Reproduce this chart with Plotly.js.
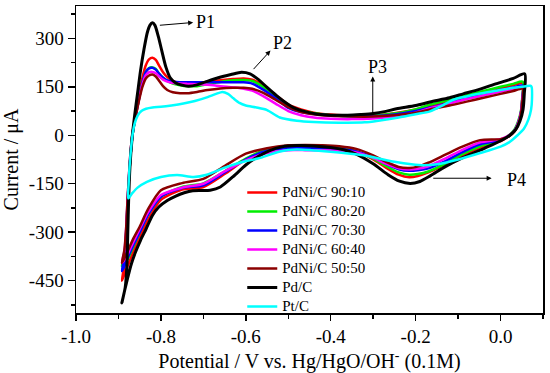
<!DOCTYPE html>
<html>
<head>
<meta charset="utf-8">
<script src="https://cdn.plot.ly/plotly-3.0.1.min.js"></script>
<style>html,body{margin:0;padding:0;background:#fff;}#chart{width:550px;height:373px;}</style>
</head>
<body>
<div id="chart"></div>
<script>
// ---- Data (potential in V, current in µA) ----
const seriesNames = ["PdNi/C 90:10", "PdNi/C 80:20", "PdNi/C 70:30", "PdNi/C 60:40", "PdNi/C 50:50", "Pd/C", "Pt/C"];
const seriesColors = ["#ff0000", "#00ee00", "#0000ff", "#ff00ff", "#8b0000", "#000000", "#00ffff"];

// shared potential grid for PdNi curves (forward then reverse)
const pdniFwdV = [-0.892,-0.886,-0.882,-0.879,-0.876,-0.872,-0.867,-0.860,-0.852,-0.844,-0.836,-0.828,-0.820,-0.812,-0.804,-0.795,-0.785,-0.772,-0.755,-0.738,-0.715,-0.690,-0.660,-0.630,-0.605,-0.585,-0.560,-0.530,-0.500,-0.470,-0.440,-0.400,-0.350,-0.300,-0.250,-0.200,-0.166,-0.120,-0.080,-0.040,0.000,0.030,0.052];
const pdniRevV = [0.051,0.048,0.042,0.033,0.020,0.000,-0.048,-0.090,-0.130,-0.170,-0.195,-0.215,-0.240,-0.270,-0.300,-0.340,-0.380,-0.420,-0.460,-0.500,-0.550,-0.600,-0.650,-0.700,-0.750,-0.800,-0.830,-0.850,-0.865,-0.877,-0.886,-0.892];

const pdni9010Fwd = [-450,-400,-320,-230,-150,-70,0,60,120,175,215,235,240,233,215,195,180,168,160,157,160,165,170,174,176,172,155,125,95,80,70,64,60,61,68,80,92,106,120,133,146,155,161];
const pdni9010Rev = [110,70,40,15,-2,-18,-38,-63,-90,-115,-126,-130,-122,-100,-75,-50,-38,-33,-31,-33,-45,-75,-120,-160,-168,-200,-260,-315,-360,-400,-430,-450];

const pdni8020Fwd = [-405,-370,-300,-220,-150,-70,0,55,110,160,195,208,210,205,190,178,168,160,155,152,152,158,165,170,171,168,150,120,90,76,68,62,59,60,67,80,95,110,124,137,150,159,166];
const pdni8020Rev = [115,75,45,18,0,-15,-34,-58,-88,-112,-120,-122,-115,-95,-72,-50,-38,-33,-32,-33,-43,-72,-112,-149,-160,-190,-245,-300,-345,-380,-398,-405];

const pdni7030Fwd = [-420,-380,-310,-225,-150,-70,0,55,110,160,195,207,209,203,190,178,170,166,164,164,164,164,164,164,164,160,142,115,85,72,66,62,59,59,64,75,86,100,114,127,140,148,154];
const pdni7030Rev = [110,70,40,15,-2,-15,-28,-52,-80,-102,-108,-110,-105,-88,-68,-50,-42,-40,-39,-40,-48,-75,-115,-155,-163,-190,-245,-300,-340,-375,-405,-420];

const pdni6040Fwd = [-395,-360,-290,-210,-140,-60,5,60,110,155,185,195,196,192,182,172,166,162,160,159,158,156,152,148,144,138,122,98,75,62,55,51,50,52,58,70,84,98,112,124,135,143,149];
const pdni6040Rev = [105,70,40,15,0,-12,-22,-45,-72,-96,-104,-106,-102,-88,-70,-53,-48,-47,-46,-46,-55,-78,-112,-150,-162,-185,-238,-290,-330,-365,-385,-395];

const pdni5050Fwd = [-395,-355,-290,-210,-140,-60,5,55,105,148,175,185,188,182,168,152,140,133,130,130,134,140,145,147,147,144,132,110,87,72,65,60,58,58,62,70,80,92,104,116,128,137,144];
const pdni5050Rev = [100,65,35,12,-3,-12,-15,-35,-60,-85,-97,-101,-98,-82,-62,-42,-34,-31,-30,-31,-40,-57,-95,-135,-148,-170,-228,-283,-320,-355,-380,-395];

// Pd/C
const pdcV = [-0.892,-0.884,-0.880,-0.878,-0.876,-0.873,-0.868,-0.862,-0.855,-0.848,-0.840,-0.832,-0.826,-0.820,-0.814,-0.806,-0.798,-0.788,-0.778,-0.765,-0.750,-0.735,-0.715,-0.695,-0.665,-0.635,-0.610,-0.590,-0.570,-0.550,-0.527,-0.505,-0.485,-0.460,-0.430,-0.400,-0.360,-0.330,-0.300,-0.270,-0.245,-0.200,-0.166,-0.120,-0.088,-0.050,-0.009,0.030,0.057,
  0.056,0.053,0.046,0.036,0.022,0.005,-0.020,-0.048,-0.090,-0.130,-0.165,-0.190,-0.213,-0.238,-0.265,-0.300,-0.340,-0.370,-0.400,-0.440,-0.480,-0.515,-0.545,-0.570,-0.600,-0.630,-0.660,-0.684,-0.705,-0.725,-0.745,-0.765,-0.785,-0.805,-0.820,-0.835,-0.848,-0.860,-0.870,-0.878,-0.885,-0.892];
const pdcI = [-519,-470,-400,-300,-200,-100,-10,60,130,200,265,318,340,348,340,305,262,210,178,162,155,152,156,165,178,188,195,190,172,148,122,100,84,73,65,62,62,64,67,74,82,92,103,116,128,142,160,176,190,
  130,80,45,18,0,-14,-30,-46,-70,-97,-125,-143,-149,-142,-122,-88,-58,-45,-38,-33,-32,-36,-48,-65,-92,-128,-160,-170,-171,-172,-178,-188,-202,-222,-248,-290,-325,-362,-400,-440,-478,-519];

// Pt/C
const ptcV = [-0.877,-0.876,-0.874,-0.871,-0.867,-0.862,-0.855,-0.846,-0.835,-0.820,-0.800,-0.775,-0.747,-0.720,-0.690,-0.670,-0.655,-0.642,-0.630,-0.615,-0.600,-0.575,-0.550,-0.520,-0.480,-0.440,-0.380,-0.320,-0.284,-0.240,-0.200,-0.166,-0.140,-0.111,-0.080,-0.048,-0.010,0.030,0.060,0.070,0.073,
  0.074,0.072,0.066,0.055,0.040,0.020,0.000,-0.048,-0.100,-0.150,-0.180,-0.210,-0.250,-0.323,-0.400,-0.480,-0.520,-0.566,-0.606,-0.645,-0.692,-0.723,-0.762,-0.800,-0.833,-0.855,-0.868,-0.877];
const ptcI = [-195,-150,-100,-50,0,35,60,75,82,86,88,92,98,106,118,128,134,128,115,100,92,86,78,55,45,41,39,40,46,55,65,74,90,110,120,129,138,147,152,153,150,
  110,80,50,20,0,-22,-35,-55,-75,-90,-93,-90,-82,-62,-51,-44,-50,-70,-82,-98,-122,-129,-123,-129,-144,-162,-180,-195];

const xTickVals = [-1.0,-0.8,-0.6,-0.4,-0.2,0.0];
const xTickText = ["-1.0","-0.8","-0.6","-0.4","-0.2","0.0"];
const yTickVals = [-450,-300,-150,0,150,300];
const yTickText = ["-450","-300","-150","0","150","300"];

// ---- Build traces ----
const legendLabel = n => '<span style="font-size:15px">' + n + '</span>';
const pdniSets = [
  [pdni9010Fwd, pdni9010Rev], [pdni8020Fwd, pdni8020Rev], [pdni7030Fwd, pdni7030Rev],
  [pdni6040Fwd, pdni6040Rev], [pdni5050Fwd, pdni5050Rev]
];
const traces = [];
pdniSets.forEach((s, k) => {
  traces.push({
    x: pdniFwdV.concat(pdniRevV), y: s[0].concat(s[1]),
    mode: "lines", name: legendLabel(seriesNames[k]),
    line: {color: seriesColors[k], width: 2.5, shape: "spline", smoothing: 0.7}
  });
});
traces.push({x: pdcV, y: pdcI, mode: "lines", name: legendLabel(seriesNames[5]),
  line: {color: seriesColors[5], width: 3, shape: "spline", smoothing: 0.7}});
traces.push({x: ptcV, y: ptcI, mode: "lines", name: legendLabel(seriesNames[6]),
  line: {color: seriesColors[6], width: 2.5, shape: "spline", smoothing: 0.7}});

const serif = "'Liberation Serif', 'Times New Roman', serif";
const arrowStyle = {showarrow: true, arrowhead: 2, arrowsize: 1, arrowwidth: 1, arrowcolor: "#000", standoff: 0, startstandoff: 0, axref: "x", ayref: "y", text: ""};

const layout = {
  width: 550, height: 373,
  margin: {l: 76, r: 7, t: 6, b: 60},
  paper_bgcolor: "#fff", plot_bgcolor: "#fff",
  font: {family: serif, color: "#000", size: 18},
  showlegend: true,
  legend: {x: 0.356, y: 0.207, xanchor: "left", yanchor: "middle", bgcolor: "rgba(0,0,0,0)",
           borderwidth: 0, font: {family: serif, size: 12, color: "#000"}, tracegroupgap: 0},
  xaxis: {
    range: [-1.0, 0.1], showgrid: false, zeroline: false,
    showline: true, linecolor: "#000", linewidth: 1.5, mirror: true,
    ticks: "outside", ticklen: 6, tickwidth: 1.5, tickcolor: "#000",
    tickmode: "array", tickvals: xTickVals, ticktext: xTickText,
    tickfont: {family: serif, size: 19},
    minor: {dtick: 0.1, tick0: 0, ticks: "outside", ticklen: 4, tickwidth: 1.5, tickcolor: "#000", showgrid: false},
    title: {text: "Potential / V vs. Hg/HgO/OH<sup>-</sup> (0.1M)", font: {family: serif, size: 20}, standoff: 8}
  },
  yaxis: {
    range: [-550, 400], showgrid: false, zeroline: false,
    showline: true, linecolor: "#000", linewidth: 1.5, mirror: true,
    ticks: "outside", ticklen: 7, tickwidth: 1.5, tickcolor: "#000",
    tickmode: "array", tickvals: yTickVals, ticktext: yTickText,
    tickfont: {family: serif, size: 19},
    minor: {dtick: 75, tick0: 0, ticks: "outside", ticklen: 4, tickwidth: 1.5, tickcolor: "#000", showgrid: false},
    title: {text: "Current / \u03bcA", font: {family: serif, size: 20}, standoff: 6}
  },
  annotations: [
    Object.assign({x: -0.724, y: 349, ax: -0.806, ay: 340}, arrowStyle),
    Object.assign({x: -0.542, y: 262, ax: -0.585, ay: 200}, arrowStyle),
    Object.assign({x: -0.301, y: 182, ax: -0.301, ay: 62}, arrowStyle),
    Object.assign({x: -0.021, y: -133, ax: -0.162, ay: -133}, arrowStyle),
    {x: -0.722, y: 349, text: "P1", showarrow: false, xanchor: "left", yanchor: "middle", font: {family: serif, size: 18}},
    {x: -0.540, y: 284, text: "P2", showarrow: false, xanchor: "left", yanchor: "middle", font: {family: serif, size: 18}},
    {x: -0.291, y: 210, text: "P3", showarrow: false, xanchor: "center", yanchor: "middle", font: {family: serif, size: 18}},
    {x: 0.010, y: -139, text: "P4", showarrow: false, xanchor: "left", yanchor: "middle", font: {family: serif, size: 18}}
  ]
};

Plotly.newPlot("chart", traces, layout, {displayModeBar: false, staticPlot: true});
</script>
</body>
</html>
